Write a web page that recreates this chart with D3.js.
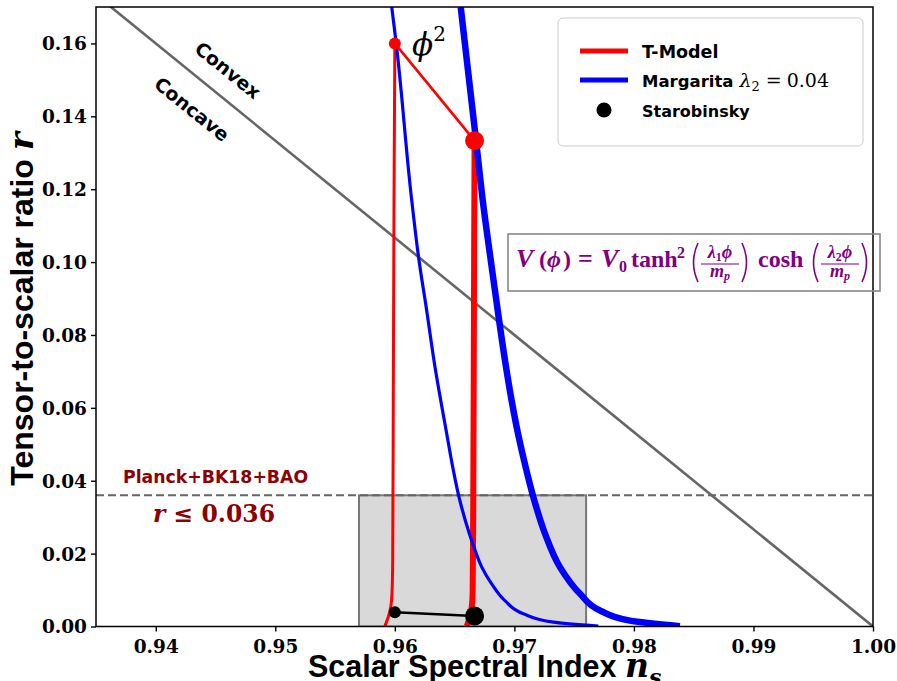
<!DOCTYPE html>
<html>
<head>
<meta charset="utf-8">
<script src="https://cdn.jsdelivr.net/npm/d3@7/dist/d3.min.js"></script>
<style>
  body { margin: 0; background: #fff; }
  svg { display: block; }
</style>
</head>
<body>
<script>
// ---- data ----
const xTicks = [0.94, 0.95, 0.96, 0.97, 0.98, 0.99, 1.00];
const yTicks = [0.00, 0.02, 0.04, 0.06, 0.08, 0.10, 0.12, 0.14, 0.16];

// T-Model, N = 50 (thin) and N = 60 (thick)
const tModelN50 = [
  [0.95917, 0.0001], [0.95945, 0.0026], [0.95965, 0.0053], [0.95976, 0.0091],
  [0.95982, 0.0181], [0.95987, 0.0621], [0.95993, 0.1170], [0.96000, 0.1600]
];
const tModelN60 = [
  [0.96601, 0.0001], [0.96629, 0.0026], [0.96645, 0.0058], [0.96651, 0.0099],
  [0.96656, 0.0346], [0.96662, 0.0895], [0.96667, 0.1333]
];

// Margarita lambda2 = 0.04, N = 50 (thin) and N = 60 (thick)
const margaritaN50 = [
  [0.95974, 0.1700], [0.96010, 0.1604], [0.96141, 0.1170], [0.96202, 0.1005],
  [0.96266, 0.0868], [0.96336, 0.0712], [0.96434, 0.0529], [0.96484, 0.0438],
  [0.96537, 0.0355], [0.96623, 0.0255], [0.96671, 0.0209], [0.96727, 0.0163],
  [0.96810, 0.0117], [0.96921, 0.0071], [0.97075, 0.0035], [0.97326, 0.0012],
  [0.97702, 0.0001]
];
const margaritaN60 = [
  [0.96551, 0.1700], [0.96679, 0.1335], [0.96735, 0.1170], [0.96810, 0.0987],
  [0.96880, 0.0822], [0.96930, 0.0712], [0.96976, 0.0622], [0.97030, 0.0530],
  [0.97093, 0.0439], [0.97158, 0.0356], [0.97256, 0.0255], [0.97381, 0.0163],
  [0.97549, 0.0090], [0.97716, 0.0044], [0.97967, 0.0016], [0.98385, 0.0001]
];

const phi2Points = [[0.96, 0.16], [0.96667, 0.13333]];
const starobinskyPoints = [[0.96, 0.0039], [0.96667, 0.0029]];
const convexLine = [[0.935, 0.17333], [1.00, 0.0]];
const planckLimit = 0.036;
const planckBox = [0.957, 0.976];

// ---- layout ----
const width = 897, height = 681;
const pLeft = 96, pRight = 873, pTop = 7, pBottom = 626.5;

const x = d3.scaleLinear().domain([0.935, 1.0]).range([pLeft, pRight]);
const y = d3.scaleLinear().domain([0, 0.17]).range([pBottom, pTop]);

const svg = d3.select("body").append("svg")
    .attr("width", width)
    .attr("height", height);

svg.append("defs").append("clipPath")
    .attr("id", "plotclip")
  .append("rect")
    .attr("x", pLeft).attr("y", pTop)
    .attr("width", pRight - pLeft).attr("height", pBottom - pTop);

const plot = svg.append("g").attr("clip-path", "url(#plotclip)");
const line = d3.line().x(d => x(d[0])).y(d => y(d[1]));
const curve = d3.line().x(d => x(d[0])).y(d => y(d[1])).curve(d3.curveMonotoneY);

// Planck box
plot.append("rect")
    .attr("x", x(planckBox[0]))
    .attr("y", y(planckLimit))
    .attr("width", x(planckBox[1]) - x(planckBox[0]))
    .attr("height", y(0) - y(planckLimit))
    .attr("fill", "#d9d9d9")
    .attr("stroke", "#777")
    .attr("stroke-width", 2);

// concave/convex boundary
plot.append("path")
    .attr("d", line(convexLine))
    .attr("fill", "none")
    .attr("stroke", "#666")
    .attr("stroke-width", 2.6);

// r < 0.036 dashed line
plot.append("line")
    .attr("x1", pLeft).attr("x2", pRight)
    .attr("y1", y(planckLimit)).attr("y2", y(planckLimit))
    .attr("stroke", "#666")
    .attr("stroke-width", 2)
    .attr("stroke-dasharray", "8,4");

// T-model curves
plot.append("path").attr("d", curve(tModelN50))
    .attr("fill", "none").attr("stroke", "#ff0000").attr("stroke-width", 3);
plot.append("path").attr("d", curve(tModelN60))
    .attr("fill", "none").attr("stroke", "#ff0000").attr("stroke-width", 6);

// Margarita curves
plot.append("path").attr("d", curve(margaritaN50))
    .attr("fill", "none").attr("stroke", "#0000ff").attr("stroke-width", 3.2);
plot.append("path").attr("d", curve(margaritaN60))
    .attr("fill", "none").attr("stroke", "#0000ff").attr("stroke-width", 6.5);

// phi^2 points
svg.append("path").attr("d", line(phi2Points))
    .attr("fill", "none").attr("stroke", "#ff0000").attr("stroke-width", 2.6);
svg.selectAll(".phi2").data(phi2Points).join("circle")
    .attr("class", "phi2")
    .attr("cx", d => x(d[0])).attr("cy", d => y(d[1]))
    .attr("r", (d, i) => i === 0 ? 6 : 9.5)
    .attr("fill", "#ff0000");

// Starobinsky points
svg.append("path").attr("d", line(starobinskyPoints))
    .attr("fill", "none").attr("stroke", "#000").attr("stroke-width", 2.6);
svg.selectAll(".staro").data(starobinskyPoints).join("circle")
    .attr("class", "staro")
    .attr("cx", d => x(d[0])).attr("cy", d => y(d[1]))
    .attr("r", (d, i) => i === 0 ? 6 : 9.5)
    .attr("fill", "#000");

// axes
const xAxis = svg.append("g")
    .attr("transform", `translate(0,${pBottom})`)
    .call(d3.axisBottom(x).tickValues(xTicks).tickFormat(d3.format(".2f")).tickSize(5).tickSizeOuter(0));
const yAxis = svg.append("g")
    .attr("transform", `translate(${pLeft},0)`)
    .call(d3.axisLeft(y).tickValues(yTicks).tickFormat(d3.format(".2f")).tickSize(5).tickSizeOuter(0));
[xAxis, yAxis].forEach(a => {
  a.select(".domain").remove();
  a.selectAll(".tick line").attr("stroke", "#000").attr("stroke-width", 1.4);
  a.selectAll(".tick text")
      .attr("fill", "#000")
      .style("font-family", "'DejaVu Serif', serif")
      .style("font-weight", "bold")
      .style("font-size", "18.5px");
});
xAxis.selectAll(".tick text").attr("y", 26).attr("dy", "0");
yAxis.selectAll(".tick text").attr("x", -9).attr("dy", "0.35em");

svg.append("rect")
    .attr("x", pLeft).attr("y", pTop)
    .attr("width", pRight - pLeft).attr("height", pBottom - pTop)
    .attr("fill", "none")
    .attr("stroke", "#000")
    .attr("stroke-width", 1.5);

// axis labels
const xLab = svg.append("text")
    .attr("x", 308).attr("y", 677)
    .style("font-family", "'Liberation Sans', sans-serif")
    .style("font-weight", "bold")
    .style("font-size", "30.5px");
xLab.append("tspan").text("Scalar Spectral Index ");
xLab.append("tspan").text("n")
    .style("font-family", "'DejaVu Serif', serif").style("font-style", "italic").style("font-size", "33px");
xLab.append("tspan").text("s").attr("dy", 8)
    .style("font-family", "'DejaVu Serif', serif").style("font-style", "italic").style("font-size", "22px");

const yLab = svg.append("text")
    .attr("transform", "translate(33,309) rotate(-90)")
    .attr("text-anchor", "middle")
    .style("font-family", "'Liberation Sans', sans-serif")
    .style("font-weight", "bold")
    .style("font-size", "32px");
yLab.append("tspan").text("Tensor-to-scalar ratio ");
yLab.append("tspan").text("r")
    .style("font-family", "'DejaVu Serif', serif").style("font-style", "italic").style("font-size", "34px");

// Convex / Concave
const sansBold = sel => sel
    .style("font-family", "'DejaVu Sans', sans-serif")
    .style("font-weight", "bold");
svg.append("text").text("Convex")
    .attr("transform", "translate(228,70) rotate(39)")
    .attr("text-anchor", "middle").attr("dominant-baseline", "central")
    .call(sansBold).style("font-size", "19px");
svg.append("text").text("Concave")
    .attr("transform", "translate(192,109) rotate(39)")
    .attr("text-anchor", "middle").attr("dominant-baseline", "central")
    .call(sansBold).style("font-size", "19px");

// phi^2 label
const phiLab = svg.append("text")
    .attr("x", 412).attr("y", 55)
    .style("font-family", "'DejaVu Serif', serif")
    .style("font-size", "31px");
phiLab.append("tspan").text("\u03d5").style("font-style", "italic");
phiLab.append("tspan").text("2").attr("dy", -14).style("font-size", "20px");

// Planck label
svg.append("text").text("Planck+BK18+BAO")
    .attr("x", 123).attr("y", 483)
    .call(sansBold).style("font-size", "17.3px")
    .attr("fill", "#8b0000");
const rLab = svg.append("text")
    .attr("x", 153).attr("y", 522)
    .attr("fill", "#8b0000")
    .style("font-family", "'DejaVu Serif', serif")
    .style("font-weight", "bold")
    .style("font-size", "23.5px");
rLab.append("tspan").text("r").style("font-style", "italic");
rLab.append("tspan").text(" \u2264 0.036");

// legend
const lg = svg.append("g");
lg.append("rect")
    .attr("x", 558).attr("y", 18).attr("width", 305).attr("height", 128)
    .attr("rx", 5)
    .attr("fill", "#fff").attr("fill-opacity", 0.8)
    .attr("stroke", "#ccc").attr("stroke-width", 1);
lg.append("line").attr("x1", 580).attr("x2", 628).attr("y1", 51).attr("y2", 51)
    .attr("stroke", "#ff0000").attr("stroke-width", 5);
lg.append("line").attr("x1", 580).attr("x2", 628).attr("y1", 80).attr("y2", 80)
    .attr("stroke", "#0000ff").attr("stroke-width", 5);
lg.append("circle").attr("cx", 604).attr("cy", 110).attr("r", 7.5).attr("fill", "#000");
lg.append("text").text("T-Model").attr("x", 642).attr("y", 57.5)
    .call(sansBold).style("font-size", "17.5px");
const mLab = lg.append("text").attr("x", 642).attr("y", 86.5)
    .call(sansBold).style("font-size", "16.5px");
mLab.append("tspan").text("Margarita");
const mathTs = (t, dx, dy, size, italic) => mLab.append("tspan").text(t)
    .attr("dx", dx).attr("dy", dy)
    .style("font-family", "'DejaVu Serif', serif").style("font-weight", "normal")
    .style("font-style", italic ? "italic" : "normal").style("font-size", size + "px");
mathTs("\u03bb", 6, 0, 19, true);
mathTs("2", 0, 4, 13, false);
mathTs("=", 6, -4, 19, false);
mathTs("0.04", 5, 0, 19, false);
lg.append("text").text("Starobinsky").attr("x", 642).attr("y", 116.5)
    .call(sansBold).style("font-size", "16px");

// potential formula box
const purple = "#800080";
const fx = svg.append("g").attr("fill", purple)
    .style("font-family", "'Liberation Serif', serif")
    .style("font-weight", "bold");
svg.append("rect")
    .attr("x", 508).attr("y", 234).attr("width", 372).attr("height", 57)
    .attr("fill", "none").attr("stroke", "#888").attr("stroke-width", 1.6);
const tok = (t, tx, ty, size, italic, anchor) => fx.append("text").text(t)
    .attr("x", tx).attr("y", ty)
    .attr("text-anchor", anchor || "start")
    .style("font-size", size + "px")
    .style("font-style", italic ? "italic" : "normal");
tok("V", 516, 267, 26, true);
tok("(", 539, 267, 24, false);
tok("\u03d5", 547, 267, 24, true);
tok(")", 563, 267, 24, false);
tok("=", 578, 267, 26, false);
tok("V", 601, 267, 26, true);
tok("0", 619, 272, 16, false);
tok("tanh", 631, 267, 24, false);
tok("2", 677, 258, 16, false);
tok("cosh", 758, 267, 24, false);
// fractions: numerator lambda_i phi over m_p
[[720, "1"], [840, "2"]].forEach(f => {
  const cx = f[0];
  const num = fx.append("text").attr("x", cx).attr("y", 258).attr("text-anchor", "middle")
      .style("font-size", "18px").style("font-style", "italic");
  num.append("tspan").text("\u03bb");
  num.append("tspan").text(f[1]).attr("dy", 3).style("font-size", "12px").style("font-style", "normal");
  num.append("tspan").text("\u03d5").attr("dy", -3);
  const den = fx.append("text").attr("x", cx).attr("y", 277).attr("text-anchor", "middle")
      .style("font-size", "18px").style("font-style", "italic");
  den.append("tspan").text("m");
  den.append("tspan").text("p").attr("dy", 3).style("font-size", "12px");
  fx.append("line").attr("x1", cx - 19).attr("x2", cx + 19).attr("y1", 264).attr("y2", 264)
      .attr("stroke", purple).attr("stroke-width", 1.2);
});
const paren = (px, dir) => fx.append("path")
    .attr("d", `M${px},243 Q${px - dir * 9},262.5 ${px},282`)
    .attr("fill", "none").attr("stroke", purple).attr("stroke-width", 1.6);
paren(698, 1); paren(742, -1);
paren(818, 1); paren(862, -1);
</script>
</body>
</html>
